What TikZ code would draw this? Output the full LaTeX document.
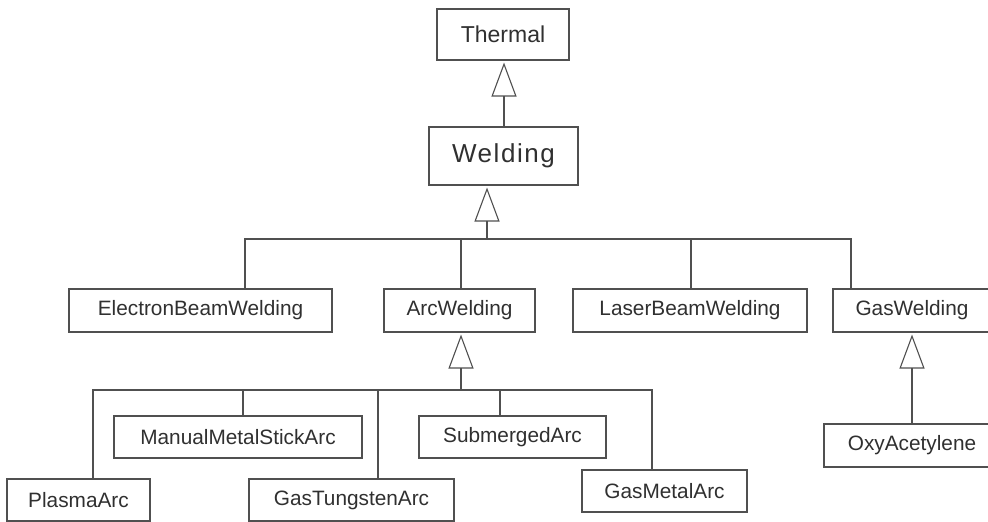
\documentclass[tikz,border=0pt]{standalone}
\usepackage{fontspec}
\setmainfont{Liberation Sans}
\usetikzlibrary{arrows.meta}
\definecolor{linegray}{HTML}{505050}
\definecolor{textgray}{HTML}{303030}
\begin{document}
\begin{tikzpicture}[x=1pt,y=-1pt,
  cls/.style={draw=linegray, line width=1.1pt, fill=white, text=textgray,
    inner sep=0pt, minimum height=43pt, font=\fontsize{20.8}{24}\selectfont},
  link/.style={draw=linegray, line width=1.1pt},
  inherit/.style={link, shorten >=2pt,
    -{Triangle[open, length=34pt, width=25pt, line width=1.1pt]}}
]
\useasboundingbox (0,0) rectangle (988,522);
\fill[white] (0,0) rectangle (988,522);
\clip (0,0) rectangle (988,522);

% top of the hierarchy
\node[cls, minimum width=132pt, minimum height=51pt,
  font=\fontsize{23}{26}\selectfont] (thermal) at (503,34.5) {Thermal};
\node[cls, minimum width=149pt, minimum height=58pt,
  font=\fontsize{26}{30}\selectfont\addfontfeature{LetterSpace=6}] (welding) at (503.5,156) {Welding};

% welding processes
\node[cls, minimum width=263pt] (ebw) at (200.5,310.5) {ElectronBeamWelding};
\node[cls, minimum width=151pt] (arc) at (459.5,310.5) {ArcWelding};
\node[cls, minimum width=234pt] (lbw) at (690,310.5) {LaserBeamWelding};
\node[cls, minimum width=158pt] (gas) at (912,310.5) {GasWelding};

% arc welding variants
\node[cls, minimum width=248pt, minimum height=42pt] (mmsa) at (238,437) {ManualMetalStickArc};
\node[cls, minimum width=143pt, minimum height=42pt] (plasma) at (78.5,500) {PlasmaArc};
\node[cls, minimum width=205pt, minimum height=42pt] (gta) at (351.5,500) {GasTungstenArc};
\node[cls, minimum width=187pt, minimum height=42pt] (sub) at (512.5,437) {SubmergedArc};
\node[cls, minimum width=165pt, minimum height=42pt] (gma) at (664.5,491) {GasMetalArc};

% gas welding variant
\node[cls, minimum width=176pt] (oxy) at (912,445.5) {OxyAcetylene};

% Welding is a Thermal process
\coordinate (s-thermal) at (504,0);
\draw[inherit] (welding.north -| s-thermal) -- (thermal.south -| s-thermal);

% first-level bus
\coordinate (bus1) at (487,239);
\draw[inherit] (bus1) -- (welding.south -| bus1);
\coordinate (b-ebw) at (245,239);
\coordinate (b-arc) at (461,239);
\coordinate (b-lbw) at (691,239);
\coordinate (b-gas) at (851,239);
\draw[link] (ebw.north -| b-ebw) -- (b-ebw) -- (bus1);
\draw[link] (arc.north -| b-arc) -- (b-arc);
\draw[link] (lbw.north -| b-lbw) -- (b-lbw);
\draw[link] (gas.north -| b-gas) -- (b-gas) -- (bus1);

% arc welding bus
\coordinate (bus2) at (461,390);
\draw[inherit] (bus2) -- (arc.south -| bus2);
\coordinate (b-plasma) at (93,390);
\coordinate (b-mmsa) at (243,390);
\coordinate (b-gta) at (378,390);
\coordinate (b-sub) at (500,390);
\coordinate (b-gma) at (652,390);
\draw[link] (plasma.north -| b-plasma) -- (b-plasma) -- (bus2);
\draw[link] (mmsa.north -| b-mmsa) -- (b-mmsa);
\draw[link] (gta.north -| b-gta) -- (b-gta);
\draw[link] (sub.north -| b-sub) -- (b-sub);
\draw[link] (gma.north -| b-gma) -- (b-gma) -- (bus2);

% oxy-acetylene is a kind of gas welding
\coordinate (s-gas) at (912,0);
\draw[inherit] (oxy.north -| s-gas) -- (gas.south -| s-gas);
\end{tikzpicture}
\end{document}
